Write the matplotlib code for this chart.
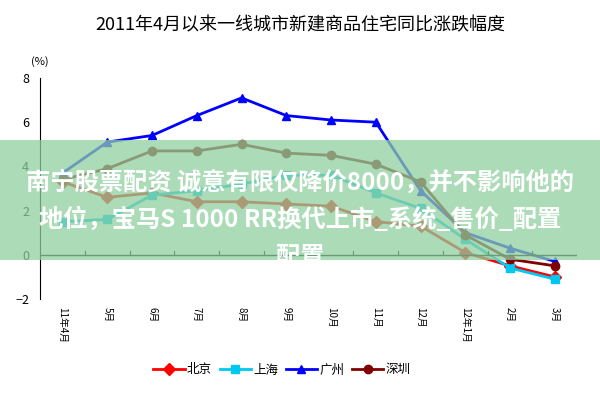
import matplotlib
matplotlib.use("Agg")
import matplotlib.pyplot as plt
from matplotlib.patches import Rectangle

plt.rcParams['font.family'] = ['Noto Sans CJK SC', 'DejaVu Sans']

months = ["11年4月", "5月", "6月", "7月", "8月", "9月", "10月", "11月", "12月", "12年1月", "2月", "3月"]
beijing = [3.3, 2.6, 2.8, 2.4, 2.4, 2.3, 2.2, 1.5, 1.3, 0.1, -0.5, -1.0]
shanghai = [1.5, 1.6, 2.7, 2.9, 3.2, 3.6, 3.6, 2.8, 2.1, 0.7, -0.6, -1.1]
guangzhou = [3.7, 5.1, 5.4, 6.3, 7.1, 6.3, 6.1, 6.0, 2.9, 1.0, 0.3, -0.3]
shenzhen = [3.4, 3.9, 4.7, 4.7, 5.0, 4.6, 4.5, 4.1, 3.3, 0.9, -0.2, -0.5]

fig = plt.figure(figsize=(6, 4), dpi=100)
ax = fig.add_axes([0.067, 0.2525, 0.895, 0.5525])
x = list(range(len(months)))
series = [("北京", beijing, "#ff0000", "D"),
          ("上海", shanghai, "#00c8f0", "s"),
          ("广州", guangzhou, "#0000ff", "^"),
          ("深圳", shenzhen, "#800000", "o")]
for name, vals, col, mk in series:
    ax.plot(x, vals, color=col, lw=2, marker=mk, ms=6, label=name)

ax.set_xlim(-0.5, 11.5)
ax.set_ylim(-2, 8)
ax.set_yticks([-2, 0, 2, 4, 6, 8])
ax.tick_params(axis='y', labelsize=9, length=0, pad=8)
for s in ['top', 'right', 'bottom']:
    ax.spines[s].set_visible(False)
ax.axhline(0, color='black', lw=1)
for xi in [i - 0.5 for i in range(13)]:
    ax.plot([xi, xi], [0, 0.15], color='black', lw=0.8)
ax.set_xticks(x)
ax.set_xticklabels(months, rotation=270, fontsize=7)
ax.tick_params(axis='x', length=0, pad=6)
ax.text(0.0, 1.06, "(%)", transform=ax.transAxes, fontsize=8, ha='center')

fig.text(0.5, 0.925, "2011年4月以来一线城市新建商品住宅同比涨跌幅度", ha='center', fontsize=13)
fig.legend(loc='center', bbox_to_anchor=(0.47, 0.075), ncol=4, frameon=False,
           fontsize=9, handlelength=2.5, columnspacing=0.6, handletextpad=0.2)

# overlay banner
fig.patches.append(Rectangle((0, 1 - 260/400), 1, 120/400, transform=fig.transFigure,
                             facecolor='#8fcf9f', alpha=0.75, edgecolor='none', zorder=10))
kw = dict(ha='center', va='center', color='white', fontsize=17.5, fontweight='bold', zorder=11)
fig.text(0.5, 1 - 182/400, "南宁股票配资 诚意有限仅降价8000，并不影响他的", **kw)
fig.text(0.5, 1 - 219/400, "地位，宝马S 1000 RR换代上市_系统_售价_配置", **kw)
fig.text(0.5, 1 - 257/400, "配置", **kw)

fig.savefig("out.png", dpi=100)
